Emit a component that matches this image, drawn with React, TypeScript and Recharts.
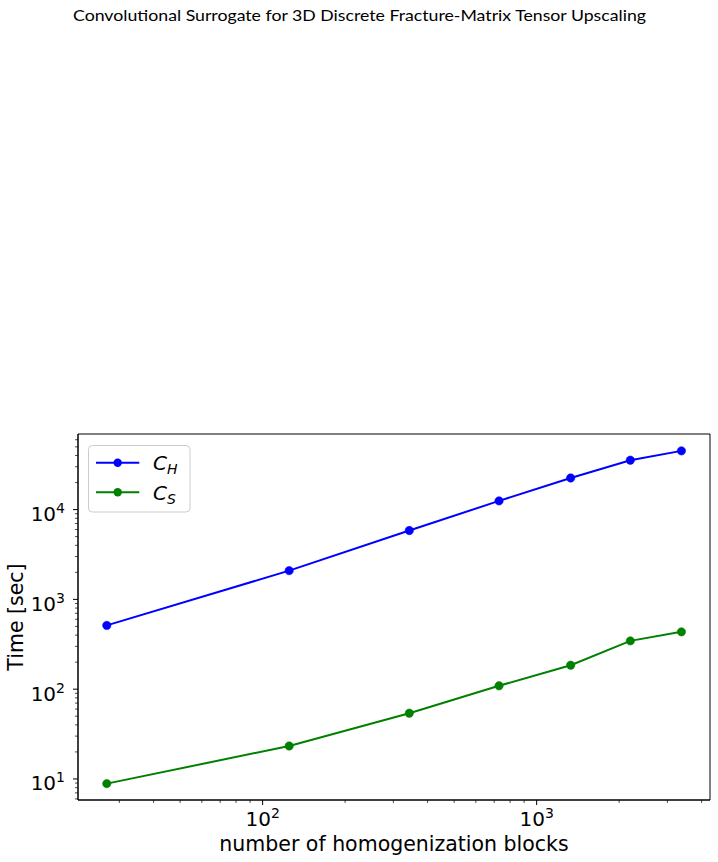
import { LineChart, Line, XAxis, YAxis, ReferenceArea, Label } from "recharts";

const blocks = [27, 125, 343, 729, 1331, 2197, 3375];
const timeCH = [513, 2090, 5840, 12500, 22500, 35500, 45100];
const timeCS = [8.87, 23.3, 54, 109, 185, 345, 435];

const xMajorTicks = [100, 1000];
const xMajorLabels = ["2", "3"];
const xMinorTicks = [30, 40, 50, 60, 70, 80, 90, 200, 300, 400, 500, 600, 700, 800, 900, 2000, 3000, 4000];

const yMajorTicks = [10, 100, 1000, 10000];
const yMajorLabels = ["1", "2", "3", "4"];
const yMinorTicks = [
  6, 7, 8, 9, 20, 30, 40, 50, 60, 70, 80, 90, 200, 300, 400, 500, 600, 700, 800, 900,
  2000, 3000, 4000, 5000, 6000, 7000, 8000, 9000, 20000, 30000, 40000, 50000, 60000,
];

const xDomain = [21.2, 4291];
const yDomain = [5.83, 69500];

const series = [
  { key: "ch", name: "C", sub: "H", color: "#0000ff" },
  { key: "cs", name: "C", sub: "S", color: "#008000" },
];

const data = blocks.map((b, i) => ({ blocks: b, ch: timeCH[i], cs: timeCS[i] }));

const FONT = "DejaVu Sans, sans-serif";

const XTick = (props: any) => {
  const { x, y, payload } = props;
  const idx = xMajorTicks.indexOf(payload.value);
  const major = idx >= 0;
  return (
    <g>
      <line x1={x} x2={x} y1={y} y2={y + (major ? 5 : 3)} stroke="#000" strokeWidth={major ? 1 : 0.7} />
      {major && (
        <text x={x} y={y + 26} textAnchor="middle" fontSize={20} fontFamily={FONT} fill="#000">
          <tspan>10</tspan>
          <tspan dy={-8} fontSize={14}>
            {xMajorLabels[idx]}
          </tspan>
        </text>
      )}
    </g>
  );
};

const YTick = (props: any) => {
  const { x, y, payload } = props;
  const idx = yMajorTicks.indexOf(payload.value);
  const major = idx >= 0;
  return (
    <g>
      <line x1={x - (major ? 5 : 3)} x2={x} y1={y} y2={y} stroke="#000" strokeWidth={major ? 1 : 0.7} />
      {major && (
        <text x={x - 13} y={y + 11.5} textAnchor="end" fontSize={20} fontFamily={FONT} fill="#000">
          <tspan>10</tspan>
          <tspan dy={-8} fontSize={14}>
            {yMajorLabels[idx]}
          </tspan>
        </text>
      )}
    </g>
  );
};

export default function App() {
  return (
    <div style={{ position: "absolute", left: 0, top: 0, width: 718, height: 862, background: "#fff" }}>
      <LineChart width={718} height={862} data={data} margin={{ top: 434, right: 8, bottom: 0, left: 0 }}>
        <XAxis
          dataKey="blocks"
          type="number"
          scale="log"
          domain={xDomain}
          allowDataOverflow
          ticks={[...xMinorTicks, ...xMajorTicks].sort((a, b) => a - b)}
          interval={0}
          tick={<XTick />}
          tickLine={false}
          tickSize={0}
          tickMargin={0}
          height={62}
          axisLine={{ stroke: "#000" }}
        >
          <Label
            content={(p: any) => {
              const vb = p.viewBox;
              return (
                <text x={vb.x + vb.width / 2} y={vb.y + 51} textAnchor="middle" fontSize={20.5} fontFamily={FONT} fill="#000">
                  number of homogenization blocks
                </text>
              );
            }}
          />
        </XAxis>
        <YAxis
          type="number"
          scale="log"
          domain={yDomain}
          allowDataOverflow
          ticks={[...yMinorTicks, ...yMajorTicks].sort((a, b) => a - b)}
          interval={0}
          tick={<YTick />}
          tickLine={false}
          tickSize={0}
          tickMargin={0}
          width={78}
          axisLine={{ stroke: "#000" }}
        >
          <Label
            content={(p: any) => {
              const vb = p.viewBox;
              const cy = vb.y + vb.height / 2;
              return (
                <text
                  x={23}
                  y={cy}
                  transform={`rotate(-90 23 ${cy})`}
                  textAnchor="middle"
                  fontSize={20.5}
                  fontFamily={FONT}
                  fill="#000"
                >
                  Time [sec]
                </text>
              );
            }}
          />
        </YAxis>
        <ReferenceArea
          x1={xDomain[0]}
          x2={xDomain[1]}
          y1={yDomain[0]}
          y2={yDomain[1]}
          fill="none"
          fillOpacity={0}
          stroke="#000"
          strokeWidth={1}
          ifOverflow="visible"
        />
        {series.map((s) => (
          <Line
            key={s.key}
            dataKey={s.key}
            type="linear"
            stroke={s.color}
            strokeWidth={2}
            dot={{ r: 4.2, fill: s.color, stroke: s.color, strokeWidth: 0.5 }}
            activeDot={false}
            isAnimationActive={false}
          />
        ))}
      </LineChart>
      <svg
        width={718}
        height={862}
        style={{ position: "absolute", left: 0, top: 0, pointerEvents: "none" }}
      >
        <text
          x={359.5}
          y={21}
          textAnchor="middle"
          fontSize={15}
          fontFamily="Lato, sans-serif"
          fill="#000"
          textLength={573}
          lengthAdjust="spacingAndGlyphs"
        >
          Convolutional Surrogate for 3D Discrete Fracture-Matrix Tensor Upscaling
        </text>
        <rect x={88.5} y={445.5} width={101.5} height={66.5} rx={4} fill="#fff" fillOpacity={0.8} stroke="#cccccc" strokeWidth={1} />
        {series.map((s, i) => {
          const cy = 462.7 + i * 29.6;
          return (
            <g key={s.key}>
              <line x1={96} x2={139.3} y1={cy} y2={cy} stroke={s.color} strokeWidth={2} />
              <circle cx={117.7} cy={cy} r={4.2} fill={s.color} />
              <text x={153} y={cy + 7.5} fontSize={20} fontStyle="italic" fontFamily={FONT} fill="#000">
                <tspan>{s.name}</tspan>
                <tspan dy={4} fontSize={14}>
                  {s.sub}
                </tspan>
              </text>
            </g>
          );
        })}
      </svg>
    </div>
  );
}
